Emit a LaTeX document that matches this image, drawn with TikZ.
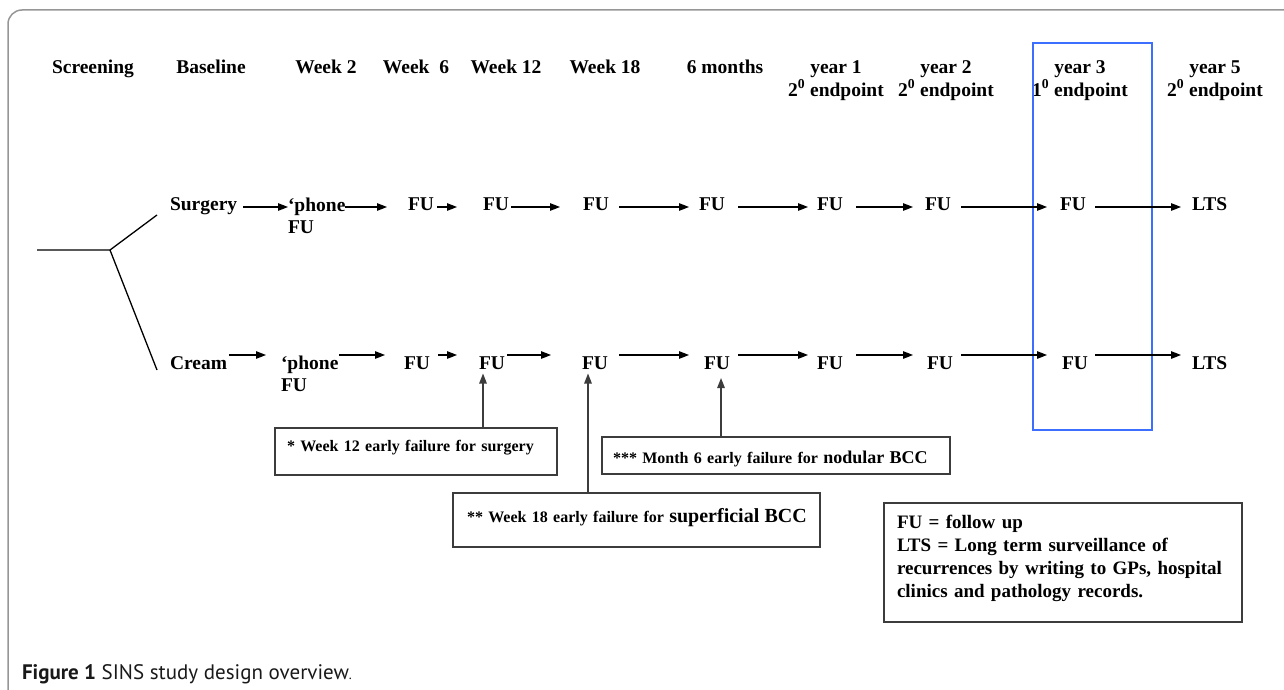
\documentclass[tikz,border=0pt]{standalone}
\usepackage{fontspec}
\setmainfont{Liberation Serif}
\newfontfamily\capfont{PT Sans}
\usetikzlibrary{arrows.meta}
\definecolor{framegray}{RGB}{150,150,150}
\definecolor{boxgray}{RGB}{60,60,60}
\definecolor{hlblue}{RGB}{60,110,255}
\begin{document}
\begin{tikzpicture}[x=1pt,y=-1pt,
  every node/.style={inner sep=0pt, outer sep=0pt},
  hdr/.style={anchor=base, align=center, font=\fontsize{19.5}{23}\selectfont\bfseries},
  item/.style={anchor=base west, align=left, text height=13pt, text depth=4pt, font=\fontsize{19.5}{22}\selectfont\bfseries},
  arr/.style={line width=1.3pt, -{Triangle[length=10pt,width=7.5pt]}},
  ln/.style={line width=1.3pt},
  fbox/.style={draw=boxgray, line width=1.5pt, anchor=north west, align=left, inner ysep=0pt, font=\fontsize{16}{20}\selectfont\bfseries}
]
\useasboundingbox (0,0) rectangle (1284,690);
\draw[framegray, line width=1.5pt, rounded corners=14pt] (1300,10) -- (8,10) -- (8,700);

% headers
\node[hdr] (h0) at (93,73.5) {Screening};
\node[hdr] (h1) at (211,73.5) {Baseline};
\node[hdr] (h2) at (326,73.5) {Week 2};
\node[hdr] (h3) at (416,73.5) {Week\ \ 6};
\node[hdr] (h4) at (506,73.5) {Week 12};
\node[hdr] (h5) at (605,73.5) {Week 18};
\node[hdr] (h6) at (725,73.5) {6 months};
\node[hdr] (h7) at (836,96.5) {year 1\\2\textsuperscript{0} endpoint};
\node[hdr] (h8) at (946,96.5) {year 2\\2\textsuperscript{0} endpoint};
\node[hdr] (h9) at (1080,96.5) {year 3\\1\textsuperscript{0} endpoint};
\node[hdr] (h10) at (1215,96.5) {year 5\\2\textsuperscript{0} endpoint};

\draw[hlblue, line width=1.2pt] (1033,43) rectangle (1152,430);

% branch
\coordinate (bl) at (37,250);
\coordinate (bj) at (110,250);
\coordinate (bu) at (157,215);
\coordinate (bd) at (157,370);
\draw[ln] (bl) -- (bj) -- (bu);
\draw[ln] (bj) -- (bd);

% surgery row
\coordinate (rs) at (0,207);
\node[item] (s0) at (170,210.5) {Surgery};
\node[item] (s1) at (288,233.5) {‘phone\\FU};
\node[item] (s2) at (408,210.5) {FU};
\node[item] (s3) at (483,210.5) {FU};
\node[item] (s4) at (583,210.5) {FU};
\node[item] (s5) at (699,210.5) {FU};
\node[item] (s6) at (817,210.5) {FU};
\node[item] (s7) at (925,210.5) {FU};
\node[item] (s8) at (1060,210.5) {FU};
\node[item] (s9) at (1192,210.5) {LTS};
\draw[arr] ([xshift=6pt]s0.east |- rs) -- ([xshift=0pt]s1.west |- rs);
\draw[arr] ([xshift=0pt]s1.east |- rs) -- ([xshift=-21pt]s2.west |- rs);
\draw[arr] ([xshift=3pt]s2.east |- rs) -- ([xshift=-26pt]s3.west |- rs);
\draw[arr] ([xshift=2pt]s3.east |- rs) -- ([xshift=-23pt]s4.west |- rs);
\draw[arr] ([xshift=10pt]s4.east |- rs) -- ([xshift=-10pt]s5.west |- rs);
\draw[arr] ([xshift=13pt]s5.east |- rs) -- ([xshift=-9pt]s6.west |- rs);
\draw[arr] ([xshift=13pt]s6.east |- rs) -- ([xshift=-12pt]s7.west |- rs);
\draw[arr] ([xshift=10pt]s7.east |- rs) -- ([xshift=-13pt]s8.west |- rs);
\draw[arr] ([xshift=9pt]s8.east |- rs) -- ([xshift=-11pt]s9.west |- rs);

% cream row
\coordinate (rc) at (0,355);
\node[item] (c0) at (170,369.5) {Cream};
\node[item] (c1) at (281,391.5) {‘phone\\FU};
\node[item] (c2) at (404,369.5) {FU};
\node[item] (c3) at (479,369.5) {FU};
\node[item] (c4) at (582,369.5) {FU};
\node[item] (c5) at (704,369.5) {FU};
\node[item] (c6) at (817,369.5) {FU};
\node[item] (c7) at (927,369.5) {FU};
\node[item] (c8) at (1062,369.5) {FU};
\node[item] (c9) at (1192,369.5) {LTS};
\draw[arr] ([xshift=2pt]c0.east |- rc) -- ([xshift=-15pt]c1.west |- rc);
\draw[arr] ([xshift=1pt]c1.east |- rc) -- ([xshift=-19pt]c2.west |- rc);
\draw[arr] ([xshift=8pt]c2.east |- rc) -- ([xshift=-22pt]c3.west |- rc);
\draw[arr] ([xshift=2pt]c3.east |- rc) -- ([xshift=-31pt]c4.west |- rc);
\draw[arr] ([xshift=11pt]c4.east |- rc) -- ([xshift=-15pt]c5.west |- rc);
\draw[arr] ([xshift=8pt]c5.east |- rc) -- ([xshift=-9pt]c6.west |- rc);
\draw[arr] ([xshift=13pt]c6.east |- rc) -- ([xshift=-14pt]c7.west |- rc);
\draw[arr] ([xshift=8pt]c7.east |- rc) -- ([xshift=-15pt]c8.west |- rc);
\draw[arr] ([xshift=7pt]c8.east |- rc) -- ([xshift=-11pt]c9.west |- rc);

% failure boxes
\node[fbox, inner xsep=12pt, text width=258pt, text height=23.5pt, text depth=23.5pt] (b1) at (275,428)
  {\mbox{* Week 12 early failure for surgery}};
\node[fbox, inner xsep=11pt, text width=326pt, text height=26.5pt, text depth=10.5pt] (b3) at (602,437)
  {\mbox{*** Month 6 early failure for {\fontsize{18}{20}\selectfont nodular BCC}}};
\node[fbox, inner xsep=14pt, text width=339pt, text height=29.5pt, text depth=24.5pt] (b2) at (453,493)
  {\mbox{** Week 18 early failure for {\fontsize{20}{20}\selectfont superficial BCC}}};
\draw[arr, draw=boxgray] ([xshift=208pt]b1.north west) -- ([xshift=208pt]b1.north west |- c3.south);
\draw[arr, draw=boxgray] ([xshift=135pt]b2.north west) -- ([xshift=135pt]b2.north west |- c4.south);
\draw[arr, draw=boxgray] ([xshift=119pt]b3.north west) -- ([xshift=119pt,yshift=-4.5pt]b3.north west |- c5.south);

% legend
\node[fbox, inner xsep=13pt, text width=332pt, text height=25pt, text depth=94pt,
  font=\fontsize{19}{23}\selectfont\bfseries] (leg) at (884,503)
  {\mbox{FU = follow up}\\\mbox{LTS = Long term surveillance of}\\\mbox{recurrences by writing to GPs, hospital}\\\mbox{clinics and pathology records.}};

% caption
\node[anchor=base west, font=\capfont\fontsize{21}{24}\selectfont, text=black!90] (cap) at (22,679)
  {\textbf{Figure 1} SINS study design overview{\fontsize{14}{14}\selectfont.}};
\end{tikzpicture}
\end{document}
